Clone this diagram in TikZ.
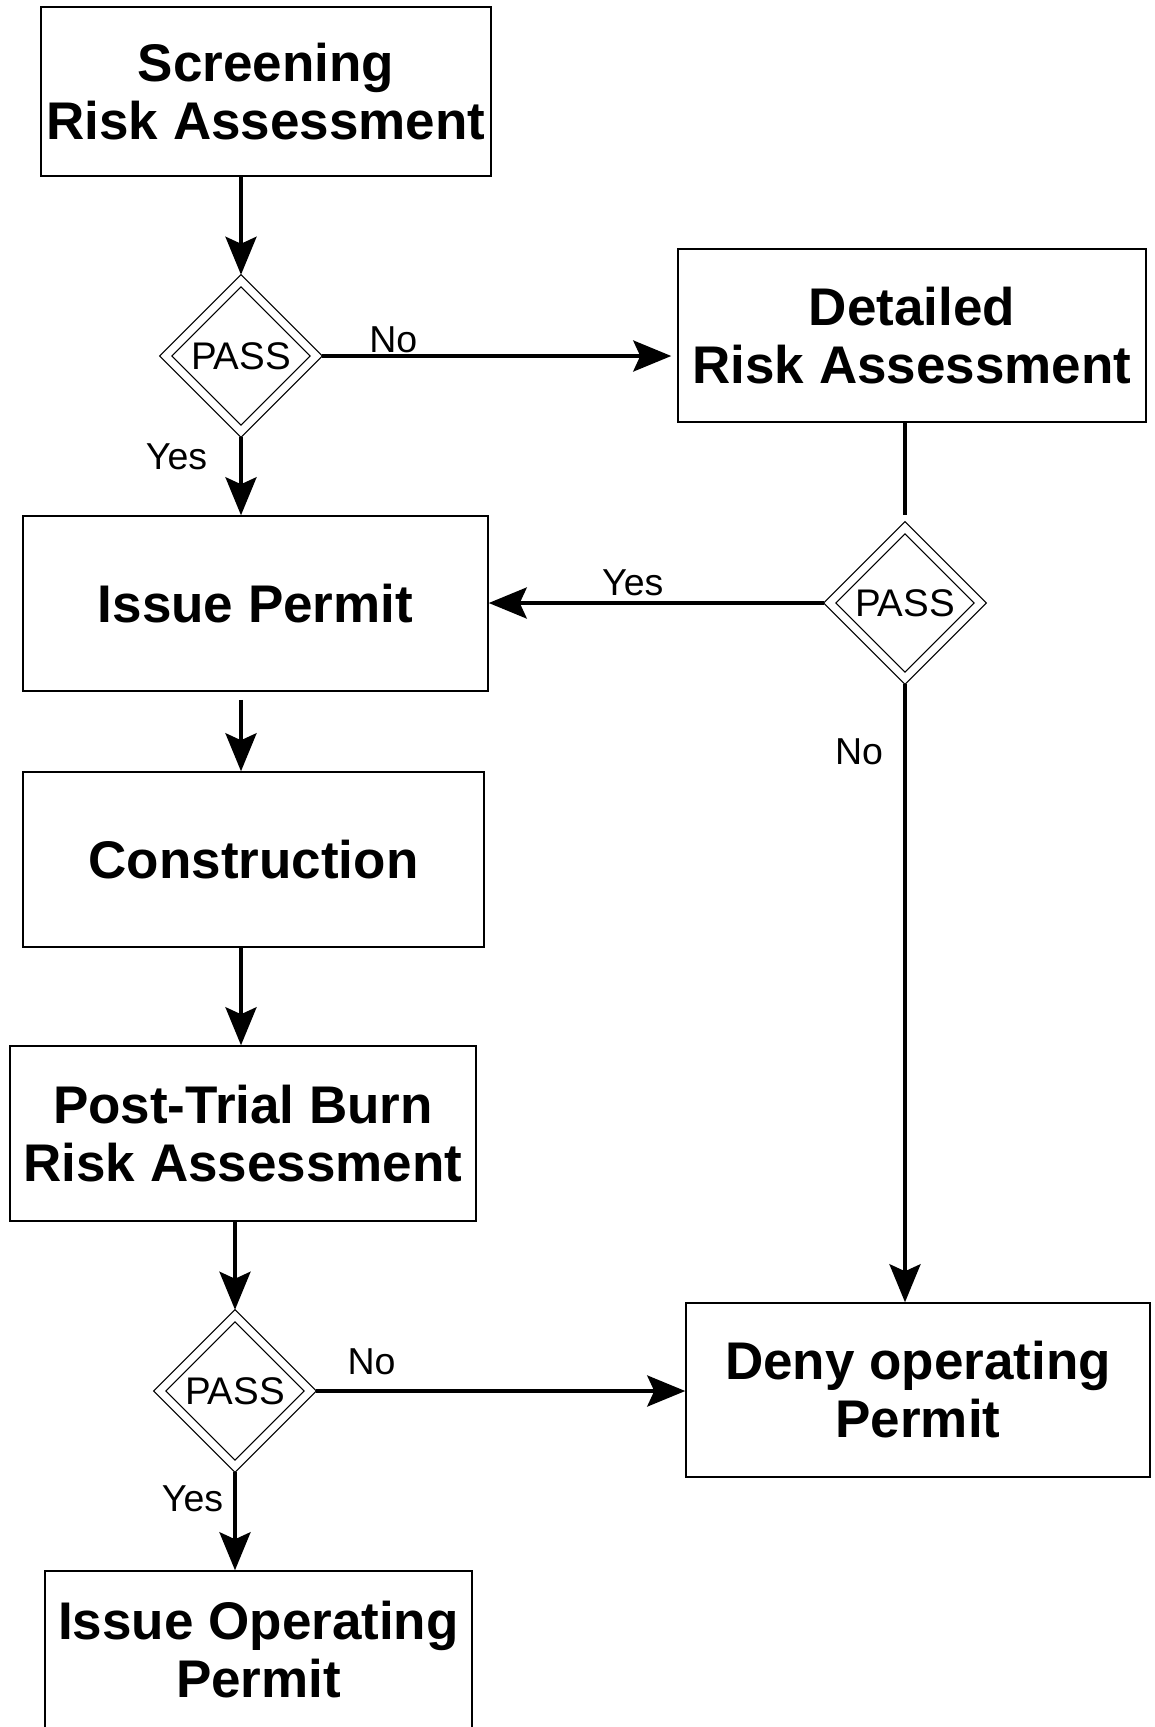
\documentclass[tikz,border=0pt]{standalone}
\usepackage{fontspec}
\setmainfont{Liberation Sans}
\usetikzlibrary{shapes.geometric,arrows.meta}
\begin{document}
\begin{tikzpicture}[x=1pt,y=-1pt,
 box/.style={draw, line width=1.5pt, align=center, font=\fontsize{53}{58}\selectfont\bfseries, inner sep=0pt},
 pass/.style={diamond, aspect=1, draw, line width=1.2pt, double, double distance=7.3pt, minimum width=154pt, minimum height=154pt, inner sep=0pt, outer sep=4.25pt, font=\fontsize{38.5}{40}\selectfont},
 flow/.style={line width=3.8pt, -{Stealth[length=38pt,width=31pt,inset=7pt]}},
 lbl/.style={font=\fontsize{37.5}{40}\selectfont, inner sep=0pt}]
\useasboundingbox (0,0) rectangle (1155,1727);

\node[box, minimum width=450pt, minimum height=169pt] (screen) at (266,91.5) {Screening\\Risk Assessment};
\node[box, minimum width=468pt, minimum height=173pt] (detail) at (912,335.5) {Detailed\\Risk Assessment};
\node[box, minimum width=465pt, minimum height=175pt] (issue) at (255.5,603.5) {Issue Permit};
\node[box, minimum width=461pt, minimum height=175pt] (constr) at (253.5,859.5) {Construction};
\node[box, minimum width=466pt, minimum height=175pt] (post) at (243,1133.5) {Post-Trial Burn\\Risk Assessment};
\node[box, minimum width=464pt, minimum height=174pt] (deny) at (918,1390) {Deny operating\\Permit};
\node[box, minimum width=427pt, minimum height=158pt] (oper) at (258.5,1650) {Issue Operating\\Permit};

\node[pass] (p1) at (241,356) {PASS};
\node[pass] (p2) at (905,603) {PASS};
\node[pass] (p3) at (235,1391) {PASS};

\draw[flow] (screen.south -| p1.north) -- (p1.north);
\draw[flow, shorten >=6pt] (p1.east) -- node[lbl, pos=0.2, above=1pt] {No} (p1.east -| detail.west);
\draw[flow] (p1.south) -- node[lbl, pos=0.25, left=32pt] {Yes} (p1.south |- issue.north);
\draw[line width=3.8pt, shorten >=7pt] (detail.south -| p2.north) -- (p2.north);
\draw[flow] (p2.west) -- node[lbl, pos=0.57, above=5pt] {Yes} (p2.west -| issue.east);
\draw[flow] (p2.south) -- node[lbl, pos=0.11, left=20pt] {No} (p2.south |- deny.north);
\draw[flow, shorten <=8pt] (issue.south -| p1.south) -- (constr.north -| p1.south);
\draw[flow] (constr.south -| p1.south) -- (post.north -| p1.south);
\draw[flow] (post.south -| p3.north) -- (p3.north);
\draw[flow] (p3.east) -- node[lbl, pos=0.15, above=14pt] {No} (p3.east -| deny.west);
\draw[flow] (p3.south) -- node[lbl, pos=0.27, left=10pt] {Yes} (p3.south |- oper.north);
\end{tikzpicture}
\end{document}
